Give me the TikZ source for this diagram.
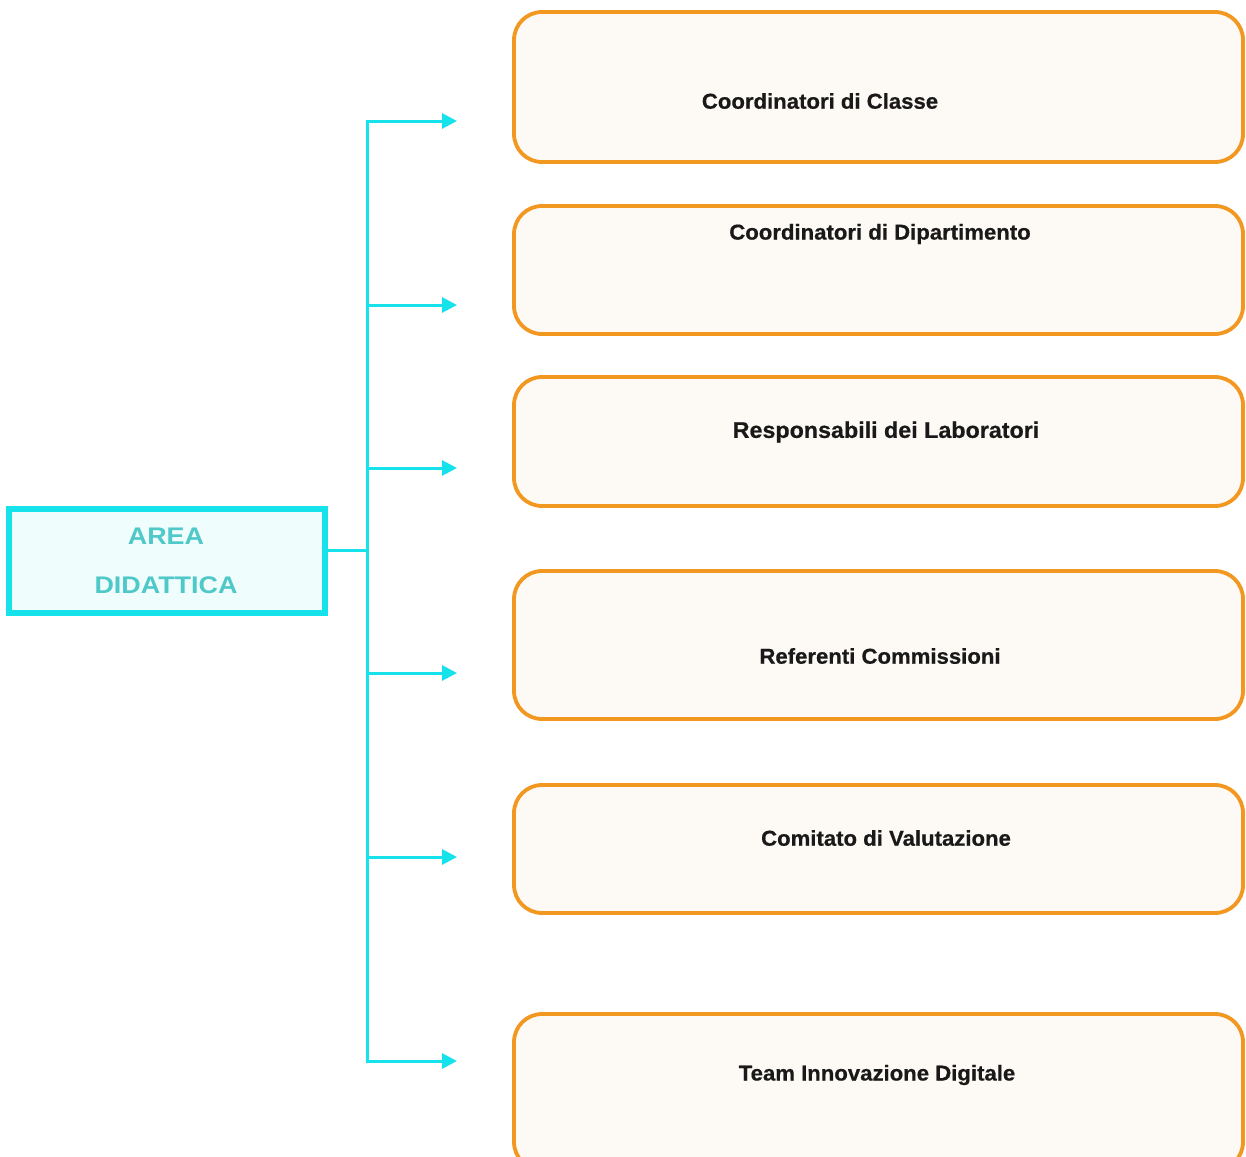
\documentclass[tikz,border=0pt]{standalone}
\usepackage{fontspec}
\setmainfont{Liberation Sans}
\newfontfamily\labfont[FakeStretch=1.12]{Liberation Sans}
\newfontfamily\boxfont[FakeStretch=1.03,FakeBold=0.6]{Liberation Sans}
\usetikzlibrary{arrows.meta}
\definecolor{cyanline}{RGB}{22,226,236}
\definecolor{areafill}{RGB}{240,253,253}
\definecolor{areatext}{RGB}{78,200,200}
\definecolor{orangeline}{RGB}{242,152,32}
\definecolor{boxfill}{RGB}{253,249,245}
\tikzset{
  orgbox/.style={draw=orangeline, fill=boxfill, line width=3.8pt, rounded corners=28pt,
    minimum width=729pt, inner sep=0pt},
  boxlabel/.style={font=\boxfont\bfseries\fontsize{21.5}{24}\selectfont, text=black!90, inner sep=0pt, anchor=center},
  biglabel/.style={boxlabel, font=\boxfont\bfseries\fontsize{22.6}{25}\selectfont},
  areabox/.style={draw=cyanline, fill=areafill, line width=5.5pt, minimum width=316pt, minimum height=104pt, inner sep=0pt},
  arealabel/.style={font=\labfont\bfseries\fontsize{24}{28}\selectfont, text=areatext, inner sep=0pt},
  conn/.style={draw=cyanline, line width=3pt},
  arr/.style={conn, -{Triangle[length=15pt,width=15pt]}}
}
\begin{document}
\begin{tikzpicture}[x=1pt,y=-1pt]
\clip (0,0) rectangle (1246,1156);
\fill[white] (0,0) rectangle (1246,1156);
% left box
\node[areabox] (area) at (167,561) {};
\node[arealabel] (areaA) at (166,536) {AREA};
\node[arealabel] (areaD) at (166,585) {DIDATTICA};
% orange boxes
\node[orgbox, minimum height=150pt] (b1) at (878.5,87) {};
\node[orgbox, minimum height=128pt] (b2) at (878.5,270) {};
\node[orgbox, minimum height=129pt] (b3) at (878.5,441.5) {};
\node[orgbox, minimum height=148pt] (b4) at (878.5,645) {};
\node[orgbox, minimum height=128pt] (b5) at (878.5,849) {};
\node[orgbox, minimum height=156pt] (b6) at (878.5,1092) {};
\node[boxlabel] (l1) at (820,101) {Coordinatori di Classe};
\node[boxlabel] (l2) at (880,234) {Coordinatori di Dipartimento};
\node[biglabel] (l3) at (886,432) {Responsabili dei Laboratori};
\node[boxlabel] (l4) at (880,656) {Referenti Commissioni};
\node[boxlabel] (l5) at (886,838) {Comitato di Valutazione};
\node[boxlabel] (l6) at (877,1075) {Team Innovazione Digitale};
% trunk coordinates
\coordinate (j) at (367,550);
\coordinate (t1) at (367,121);
\coordinate (t2) at (367,305);
\coordinate (t3) at (367,468);
\coordinate (t4) at (367,673);
\coordinate (t5) at (367,857);
\coordinate (t6) at (367,1061);
\coordinate (a1) at (457,121);
\coordinate (a2) at (457,305);
\coordinate (a3) at (457,468);
\coordinate (a4) at (457,673);
\coordinate (a5) at (457,857);
\coordinate (a6) at (457,1061);
\draw[conn] (j -| area.east) -- (j);
\draw[conn, line cap=rect] (t1) -- (t6);
\foreach \i in {1,...,6} {\draw[arr] (t\i) -- (a\i);}
\end{tikzpicture}
\end{document}
